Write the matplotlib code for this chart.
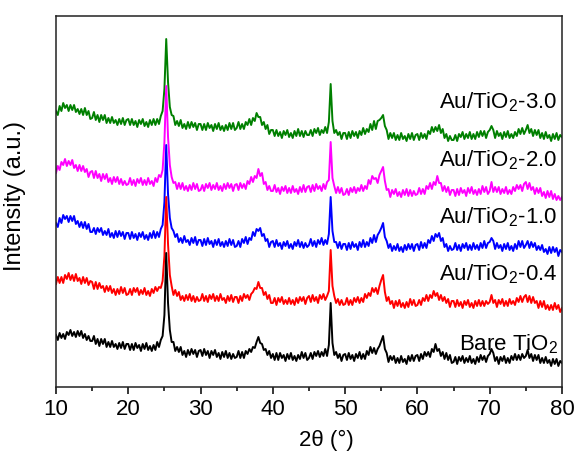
import numpy as np
import matplotlib
matplotlib.use("Agg")
import matplotlib.pyplot as plt

plt.rcParams['font.family'] = ['Liberation Sans', 'DejaVu Sans']
plt.rcParams['mathtext.fontset'] = 'custom'
plt.rcParams['mathtext.rm'] = 'Liberation Sans'
plt.rcParams['mathtext.it'] = 'Liberation Sans'

# 2theta grid of the scans, 10-80 deg in 0.25 deg steps
two_theta = np.linspace(10, 80, 281)

# intensities (a.u.) above each pattern's own baseline
bare_tio2 = [
    28, 23, 30, 25, 29, 24, 31, 28, 33, 27, 31, 26, 32, 27, 32, 25, 29, 23, 27, 22,
    22, 27, 19, 24, 17, 24, 19, 24, 16, 21, 16, 22, 16, 19, 14, 20, 15, 21, 14, 19,
    19, 13, 19, 13, 20, 15, 18, 12, 19, 14, 20, 13, 17, 12, 18, 13, 21, 16, 23, 27,
    48, 110, 60, 33, 21, 21, 12, 16, 11, 16, 8, 12, 6, 13, 8, 14, 9, 13, 6, 12,
    13, 7, 14, 8, 12, 5, 12, 8, 13, 6, 10, 4, 11, 6, 12, 5, 10, 4, 9, 5,
    6, 12, 5, 11, 5, 12, 9, 14, 11, 16, 15, 21, 26, 20, 19, 13, 14, 8, 12, 5,
    9, 3, 10, 3, 10, 5, 8, 2, 9, 4, 10, 3, 7, 2, 8, 4, 11, 5, 10, 3,
    5, 10, 4, 11, 7, 12, 6, 11, 7, 14, 7, 18, 60, 20, 8, 11, 5, 9, 2, 8,
    9, 3, 10, 4, 8, 2, 9, 5, 11, 4, 9, 4, 12, 8, 16, 10, 15, 9, 14, 17,
    22, 27, 14, 10, 1, 7, 3, 7, 0, 5, 0, 7, 1, 4, -1, 7, 2, 8, 2, 7,
    8, 2, 9, 4, 11, 7, 11, 6, 14, 11, 19, 12, 14, 7, 11, 4, 10, 3, 8, 0,
    1, 6, -1, 6, 2, 7, 0, 5, 1, 7, 0, 4, -1, 6, 1, 8, 3, 7, 1, 7,
    9, 14, 10, 2, 6, -1, 6, 2, 7, 0, 5, 0, 7, 3, 9, 3, 8, 3, 9, 5,
    7, 13, 5, 9, 2, 8, 3, 8, 0, 5, 0, 6, 0, 3, -3, 4, -1, 4, -3, 2,
    0]

au_04 = [
    24, 31, 25, 31, 25, 33, 29, 35, 28, 33, 27, 34, 27, 30, 24, 31, 25, 30, 23, 27,
    26, 19, 26, 19, 25, 20, 22, 16, 22, 17, 22, 15, 19, 13, 19, 14, 21, 15, 20, 13,
    14, 19, 13, 20, 16, 20, 13, 18, 14, 20, 13, 17, 12, 19, 15, 21, 17, 21, 20, 27,
    52, 111, 64, 33, 22, 13, 18, 12, 16, 8, 12, 7, 13, 8, 14, 7, 12, 6, 11, 7,
    8, 14, 7, 12, 6, 13, 9, 14, 7, 12, 7, 14, 8, 10, 5, 12, 7, 13, 6, 11,
    11, 5, 12, 7, 14, 10, 13, 8, 14, 16, 20, 19, 26, 20, 20, 13, 16, 9, 13, 5,
    5, 10, 3, 10, 6, 11, 4, 8, 4, 10, 4, 8, 3, 10, 5, 11, 7, 11, 4, 10,
    12, 6, 13, 7, 11, 5, 13, 9, 14, 8, 12, 17, 58, 22, 12, 5, 9, 3, 8, 3,
    4, 10, 3, 8, 3, 10, 6, 11, 5, 10, 6, 14, 10, 15, 12, 20, 16, 20, 14, 22,
    28, 33, 16, 7, 11, 4, 7, 0, 7, 2, 8, 1, 5, 0, 6, 1, 9, 3, 8, 2,
    3, 8, 3, 10, 7, 13, 7, 13, 10, 17, 12, 15, 8, 13, 7, 11, 5, 9, 1, 7,
    7, 1, 8, 2, 6, 0, 7, 3, 8, 1, 5, 0, 7, 2, 8, 2, 7, 2, 7, 4,
    6, 13, 5, 8, 1, 8, 4, 9, 2, 7, 2, 9, 4, 7, 3, 10, 6, 12, 6, 11,
    13, 6, 12, 5, 11, 5, 7, 0, 7, 1, 7, -1, 3, -2, 3, -2, 5, -1, 3, -4,
    0]

au_10 = [
    29, 25, 34, 29, 37, 33, 36, 30, 36, 31, 36, 28, 31, 25, 30, 24, 30, 23, 28, 20,
    20, 24, 18, 24, 20, 24, 17, 21, 17, 23, 15, 19, 14, 21, 15, 21, 16, 20, 13, 19,
    19, 13, 20, 14, 18, 12, 19, 15, 20, 13, 17, 12, 19, 14, 21, 14, 20, 15, 23, 27,
    50, 107, 58, 34, 24, 21, 15, 18, 10, 14, 9, 16, 10, 12, 7, 14, 9, 15, 7, 12,
    12, 6, 13, 7, 14, 8, 11, 5, 12, 7, 13, 6, 10, 5, 11, 6, 13, 7, 12, 5,
    6, 11, 5, 13, 9, 15, 8, 14, 12, 20, 16, 23, 21, 24, 16, 18, 11, 13, 5, 10,
    11, 5, 12, 6, 9, 3, 10, 6, 11, 4, 8, 3, 10, 6, 12, 5, 10, 4, 9, 5,
    7, 13, 6, 11, 5, 12, 8, 14, 7, 12, 8, 18, 55, 21, 10, 10, 4, 10, 3, 8,
    8, 2, 9, 3, 10, 5, 8, 2, 10, 5, 12, 5, 10, 6, 14, 9, 17, 10, 17, 20,
    24, 29, 15, 11, 4, 8, 1, 6, 2, 8, 1, 5, 0, 7, 2, 8, 3, 8, 1, 7,
    8, 2, 10, 4, 9, 4, 12, 9, 16, 11, 18, 15, 19, 11, 14, 5, 8, 1, 6, 2,
    3, 9, 2, 7, 1, 8, 4, 9, 2, 7, 2, 9, 3, 7, 2, 9, 4, 11, 4, 9,
    10, 14, 11, 3, 9, 4, 7, 1, 8, 3, 9, 2, 6, 1, 8, 3, 11, 5, 11, 4,
    7, 11, 4, 10, 5, 9, 2, 6, 2, 7, 0, 3, -2, 5, -1, 5, 0, 4, -4, 2,
    0]

au_20 = [
    24, 31, 27, 35, 32, 38, 31, 36, 32, 37, 29, 32, 26, 32, 26, 31, 25, 28, 20, 25,
    26, 19, 26, 19, 23, 16, 23, 18, 23, 15, 19, 13, 20, 15, 20, 13, 18, 12, 16, 12,
    13, 19, 12, 17, 11, 18, 14, 19, 12, 17, 12, 19, 13, 16, 11, 19, 15, 22, 20, 27,
    55, 111, 60, 32, 20, 14, 15, 8, 14, 8, 14, 7, 11, 6, 12, 7, 14, 8, 13, 6,
    7, 12, 6, 13, 9, 14, 7, 12, 8, 14, 7, 11, 6, 13, 8, 14, 9, 13, 6, 12,
    13, 7, 14, 9, 13, 8, 16, 13, 20, 15, 21, 19, 28, 21, 24, 13, 15, 7, 11, 6,
    6, 12, 5, 9, 3, 10, 6, 11, 4, 9, 4, 11, 5, 8, 3, 10, 5, 12, 5, 10,
    11, 5, 12, 6, 13, 8, 11, 6, 13, 8, 15, 17, 55, 19, 11, 4, 10, 4, 9, 2,
    3, 8, 2, 9, 5, 10, 4, 9, 6, 12, 6, 11, 8, 17, 13, 21, 18, 19, 14, 22,
    26, 30, 16, 7, 8, 0, 7, 3, 8, 1, 5, 0, 7, 2, 8, 1, 7, 1, 6, 2,
    3, 9, 3, 8, 3, 11, 8, 14, 8, 15, 12, 21, 14, 14, 6, 11, 5, 10, 2, 7,
    7, 1, 8, 2, 9, 4, 7, 1, 9, 4, 10, 3, 7, 2, 8, 3, 11, 5, 10, 3,
    6, 15, 5, 10, 5, 10, 3, 8, 4, 10, 3, 7, 3, 10, 6, 12, 8, 12, 6, 13,
    15, 8, 14, 7, 10, 3, 9, 4, 9, 1, 5, -1, 6, 0, 6, -2, 3, -3, 1, -3,
    0]

au_30 = [
    26, 22, 31, 26, 34, 29, 32, 26, 32, 27, 32, 25, 28, 23, 28, 22, 29, 22, 26, 18,
    19, 25, 17, 22, 15, 22, 17, 22, 14, 19, 14, 20, 14, 17, 12, 18, 13, 19, 12, 17,
    18, 12, 18, 12, 16, 10, 17, 13, 18, 11, 15, 10, 17, 12, 18, 12, 18, 13, 21, 26,
    48, 98, 55, 30, 22, 21, 12, 16, 11, 17, 9, 13, 8, 15, 9, 15, 10, 14, 7, 13,
    13, 7, 13, 7, 14, 9, 12, 6, 13, 8, 14, 7, 11, 6, 12, 7, 14, 8, 14, 7,
    9, 15, 8, 13, 8, 15, 12, 18, 12, 19, 16, 24, 20, 20, 12, 15, 8, 12, 3, 7,
    7, 1, 7, 1, 5, -1, 6, 2, 7, 0, 4, -1, 6, 1, 8, 1, 6, 0, 6, 2,
    2, 7, 1, 8, 4, 9, 2, 7, 4, 10, 4, 15, 53, 16, 4, 7, 2, 5, -2, 4,
    4, -2, 5, -1, 6, 1, 5, -1, 6, 2, 9, 3, 8, 5, 13, 7, 16, 8, 16, 17,
    19, 22, 11, 7, -2, 4, -1, 4, -3, 2, -3, 4, -2, 1, -4, 3, -2, 4, -3, 2,
    3, -3, 4, -1, 3, -2, 6, 3, 10, 5, 10, 6, 12, 4, 8, -1, 3, -4, 1, -3,
    -3, 2, -4, 3, 0, 5, -2, 3, -1, 5, -2, 3, -2, 5, 0, 6, 1, 6, -1, 5,
    7, 11, 7, -1, 6, 1, 4, -2, 5, 0, 6, -1, 3, -1, 5, 1, 8, 3, 9, 3,
    7, 12, 4, 8, 1, 7, 2, 7, -1, 4, -2, 5, -1, 2, -4, 3, -2, 4, -3, 2,
    0]

labels = ['Bare TiO$_2$', 'Au/TiO$_2$-0.4', 'Au/TiO$_2$-1.0',
          'Au/TiO$_2$-2.0', 'Au/TiO$_2$-3.0']
patterns = [bare_tio2, au_04, au_10, au_20, au_30]
colors = ['black', 'red', 'blue', 'magenta', 'green']

# vertical stacking of the patterns and label heights
offsets = [24, 79, 135, 190, 250]
label_y = [43, 113, 170, 227, 285]

fig = plt.figure(figsize=(5.79, 4.55), dpi=100)
ax = fig.add_axes([0.0967, 0.1495, 0.8739, 0.8153])

# green drawn first so black ends up on top
for i in reversed(range(len(patterns))):
    ax.plot(two_theta, np.array(patterns[i]) + offsets[i], color=colors[i], lw=1.4)
    ax.text(79.4, label_y[i], labels[i], ha='right', va='center', fontsize=16)

ax.set_xlim(10, 80)
ax.set_ylim(0, 371)
ax.set_xticks(np.arange(10, 81, 10))
ax.set_xticks(np.arange(15, 80, 10), minor=True)
ax.set_yticks([])
ax.tick_params(axis='x', which='major', direction='out', length=5, width=1.1, labelsize=16, pad=4)
ax.tick_params(axis='x', which='minor', direction='out', length=3, width=1.1)
for s in ax.spines.values():
    s.set_linewidth(1.1)
    s.set_color('#222222')

ax.set_xlabel('2\u03b8 (\u00b0)', fontsize=16)
ax.xaxis.set_label_coords(0.534, -0.115)
ax.set_ylabel('Intensity (a.u.)', fontsize=17)
ax.yaxis.set_label_coords(-0.06, 0.515)

fig.savefig('out.png', dpi=100)
